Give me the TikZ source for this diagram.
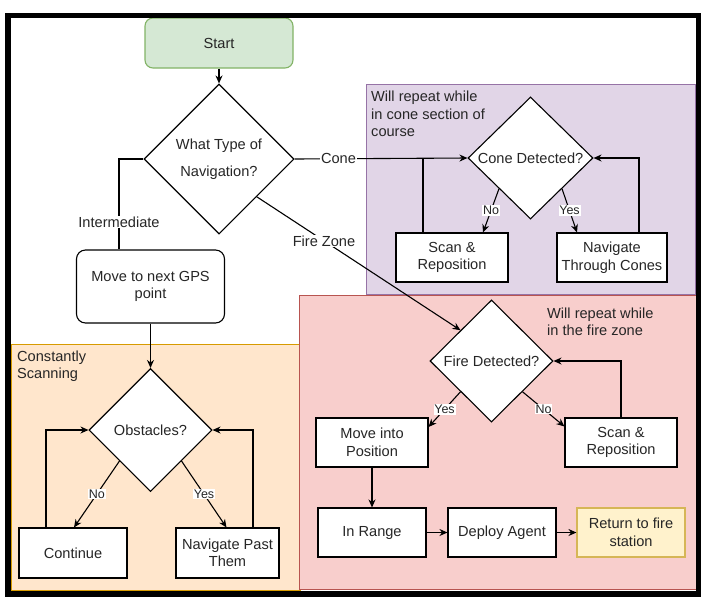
\documentclass[tikz,border=0pt]{standalone}
\usepackage{fontspec}
\setmainfont{Liberation Sans}
\usetikzlibrary{shapes.geometric,arrows.meta}
\definecolor{txt}{HTML}{262626}
\definecolor{greenF}{HTML}{D5E8D4}
\definecolor{greenS}{HTML}{82B366}
\definecolor{purpF}{HTML}{E1D5E7}
\definecolor{purpS}{HTML}{9673A6}
\definecolor{redF}{HTML}{F8CECC}
\definecolor{redS}{HTML}{B85450}
\definecolor{oraF}{HTML}{FFE6CC}
\definecolor{oraS}{HTML}{D79B00}
\definecolor{yelF}{HTML}{FFF2CC}
\definecolor{yelS}{HTML}{D6B656}
\newcommand\myfs{\fontsize{14.6}{17.5}\selectfont}
\newcommand\mylfs{\fontsize{12.5}{14}\selectfont}
\tikzset{
  base/.style={font=\myfs, text=txt, align=center},
  box/.style={base, draw=black, fill=white, line width=1.1pt, minimum height=49, inner sep=0},
  dia/.style={base, draw=black, fill=white, diamond, inner sep=0, line width=1.1pt},
  conn/.style={line width=1.1pt, draw=black},
  arr/.style={conn, -{Stealth[length=8pt,width=7pt]}},
  lbl/.style={font=\mylfs, text=txt, fill=white, inner sep=0.8pt},
  flbl/.style={font=\myfs, text=txt, fill=white, inner sep=0.8pt},
  cont/.style={line width=1pt},
  ctext/.style={base, align=left, anchor=west, inner sep=0},
}
\begin{document}
\begin{tikzpicture}[x=1pt,y=-1pt]
\useasboundingbox (0,0) rectangle (703,603);
% containers
\filldraw[cont, fill=oraF, draw=oraS] (11,344) rectangle (300,590);
\filldraw[cont, fill=purpF, draw=purpS] (366,84) rectangle (695,294);
\filldraw[cont, fill=redF, draw=redS] (299,295) rectangle (696,589);
\node[ctext] (cscan) at (17,366) {Constantly\\Scanning};
\node[ctext] (ctcone) at (371,114) {Will repeat while\\in cone section of\\course};
\node[ctext] (ctfire) at (547,322) {Will repeat while\\in the fire zone};
% nodes
\node[box, rounded corners=8pt, fill=greenF, draw=greenS, minimum width=148, minimum height=50] (start) at (219,43) {Start};
\node[dia, minimum width=150, minimum height=150] (nav) at (219,159) {What Type of\\[9.5pt]Navigation?};
\node[box, rounded corners=9pt, minimum width=148, minimum height=73] (gps) at (150.5,286.5) {Move to next GPS\\point};
\node[dia, minimum width=123, minimum height=123] (obst) at (150.5,430) {Obstacles?};
\node[box, minimum width=108, minimum height=50] (cont) at (73,553) {Continue};
\node[box, minimum width=103, minimum height=50] (navpast) at (227.5,553) {Navigate Past\\Them};
\node[dia, minimum width=125, minimum height=122] (cone) at (530.5,158) {Cone Detected?};
\node[box, minimum width=112] (scanc) at (452,257.5) {Scan \&\\Reposition};
\node[box, minimum width=110] (navcones) at (612,257.5) {Navigate\\Through Cones};
\node[dia, minimum width=123, minimum height=122] (fire) at (491.5,361) {Fire Detected?};
\node[box, minimum width=112] (move) at (372,442.5) {Move into\\Position};
\node[box, minimum width=112] (scanf) at (621,442.5) {Scan \&\\Reposition};
\node[box, minimum width=108] (inrange) at (372,532.5) {In Range};
\node[box, minimum width=108] (deploy) at (502,532.5) {Deploy Agent};
\node[box, minimum width=108, fill=yelF, draw=yelS] (ret) at (631,532.5) {Return to fire\\station};
% connectors
\draw[arr] (start) -- (nav);
\draw[conn] (nav.west) -| ([xshift=-31.5]gps.north) node[flbl, pos=0.85] {Intermediate};
\draw[arr] (nav.east) -- node[flbl, pos=0.254] {Cone} (cone.west);
\draw[arr] (nav.south east) -- node[flbl, pos=0.33] {Fire Zone} (fire.north west);
\draw[conn] ([xshift=-29]scanc.north) -- ([xshift=-29]scanc.north |- cone.west);
\draw[arr] ([xshift=27]navcones.north) |- (cone.east);
\draw[arr] (cone.south west) -- node[lbl] {No} ([xshift=31]scanc.north);
\draw[arr] (cone.south east) -- node[lbl] {Yes} ([xshift=-35]navcones.north);
\draw[arr] (scanf.north) |- (fire.east);
\draw[arr] (fire.south west) -- node[lbl] {Yes} ([yshift=-9.5]move.north east);
\draw[arr] (fire.south east) -- node[lbl] {No} ([yshift=-9]scanf.north west);
\draw[arr] (move) -- (inrange);
\draw[arr] (inrange) -- (deploy);
\draw[arr] (deploy) -- (ret);
\draw[arr] (gps) -- (obst);
\draw[arr] (obst.south west) -- node[lbl] {No} ([xshift=1]cont.north);
\draw[arr] (obst.south east) -- node[lbl] {Yes} ([xshift=-1]navpast.north);
\draw[arr] ([xshift=-27]cont.north) |- (obst.west);
\draw[arr] ([xshift=25.5]navpast.north) |- (obst.east);
% outer frame
\draw[line width=5.5pt] (8,15.5) rectangle (698.5,594);
\end{tikzpicture}
\end{document}
